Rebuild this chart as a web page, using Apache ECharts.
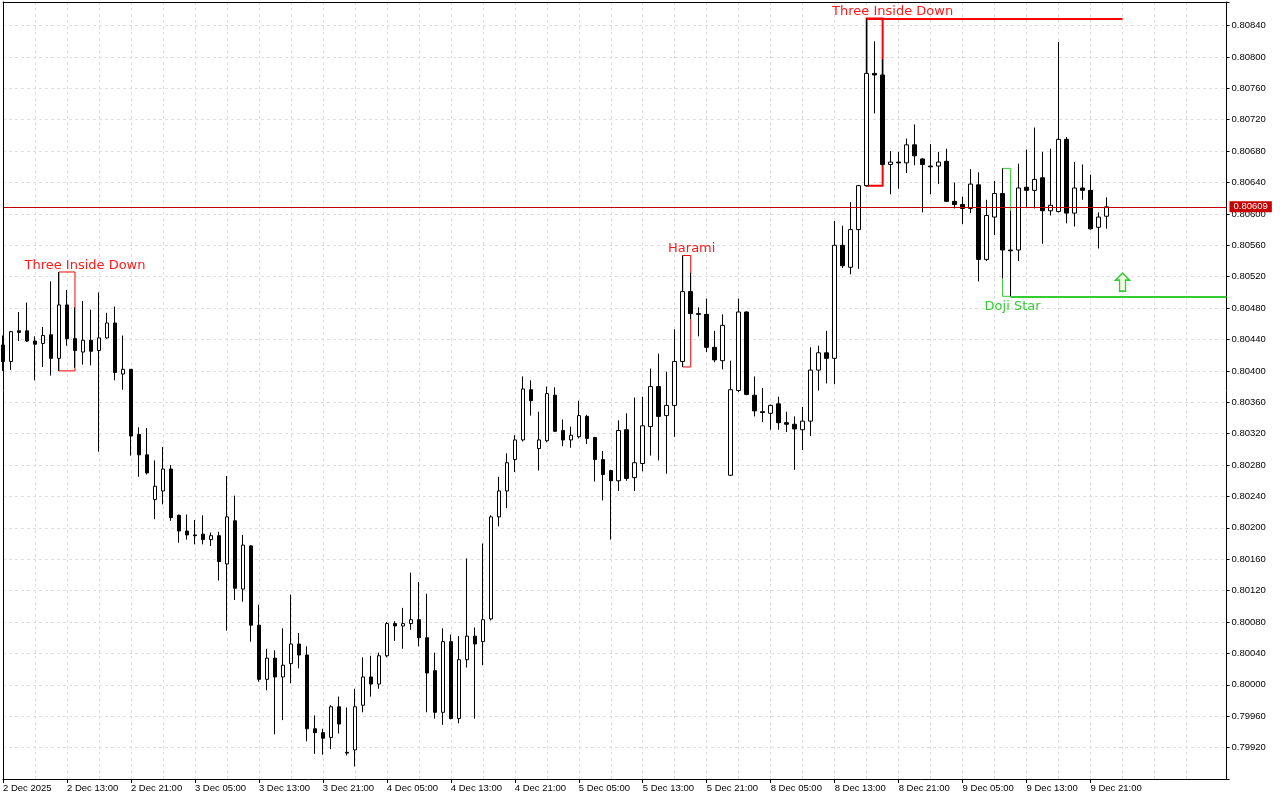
<!DOCTYPE html>
<html><head><meta charset="utf-8">
<script src="https://cdn.jsdelivr.net/npm/echarts@6/dist/echarts.min.js"></script>
<style>html,body{margin:0;padding:0;background:#fff}#c{width:1280px;height:800px}</style>
</head><body><div id="c"></div>
<script>
// ---- hourly sessions shown (weekend skipped) ----
const sessionDays = [['2 Dec',5,23],['3 Dec',0,23],['4 Dec',0,23],['5 Dec',0,23],['8 Dec',0,23],['9 Dec',0,23],['10 Dec',0,14]];
const firstLabel = '2 Dec 2025';

const openP = [0.80433,0.80412,0.80451,0.80451,0.80438,0.80435,0.80446,0.80416,0.80484,0.80441,
0.80424,0.80439,0.80426,0.80442,0.80461,0.80396,0.80402,0.80319,0.80293,0.80236,
0.80247,0.80275,0.80216,0.80196,0.80191,0.80192,0.80185,0.80190,0.80154,0.80209,
0.80122,0.80177,0.80076,0.80007,0.80034,0.80010,0.80027,0.80052,0.80038,0.79944,
0.79939,0.79933,0.79972,0.79914,0.79917,0.79974,0.80010,0.80001,0.80037,0.80078,
0.80075,0.80078,0.80083,0.80060,0.80018,0.79965,0.80055,0.79957,0.80032,0.80062,
0.80055,0.80084,0.80214,0.80247,0.80287,0.80312,0.80376,0.80301,0.80311,0.80369,
0.80324,0.80312,0.80316,0.80342,0.80315,0.80287,0.80273,0.80260,0.80325,0.80264,
0.80282,0.80329,0.80380,0.80343,0.80356,0.80412,0.80501,0.80473,0.80472,0.80430,
0.80413,0.80267,0.80375,0.80475,0.80369,0.80348,0.80346,0.80358,0.80334,0.80332,
0.80325,0.80336,0.80401,0.80423,0.80416,0.80560,0.80532,0.80580,0.80636,0.80779,
0.80777,0.80663,0.80666,0.80665,0.80688,0.80670,0.80661,0.80661,0.80667,0.80616,
0.80612,0.80607,0.80637,0.80542,0.80596,0.80626,0.80554,0.80554,0.80634,0.80630,
0.80646,0.80604,0.80603,0.80695,0.80601,0.80633,0.80630,0.80583,0.80597];

const closeP = [0.80412,0.80450,0.80449,0.80438,0.80434,0.80445,0.80416,0.80484,0.80441,0.80426,
0.80439,0.80425,0.80442,0.80461,0.80398,0.80402,0.80317,0.80293,0.80270,0.80253,
0.80275,0.80213,0.80196,0.80191,0.80190,0.80185,0.80190,0.80157,0.80214,0.80123,
0.80178,0.80076,0.80007,0.80034,0.80010,0.80025,0.80052,0.80038,0.79944,0.79939,
0.79932,0.79972,0.79950,0.79913,0.79972,0.80010,0.80001,0.80037,0.80078,0.80075,
0.80078,0.80083,0.80060,0.80015,0.79965,0.80055,0.79957,0.80032,0.80062,0.80052,
0.80083,0.80214,0.80247,0.80283,0.80312,0.80377,0.80362,0.80312,0.80371,0.80323,
0.80312,0.80318,0.80343,0.80314,0.80287,0.80268,0.80260,0.80324,0.80263,0.80283,
0.80330,0.80380,0.80342,0.80356,0.80412,0.80501,0.80473,0.80472,0.80430,0.80414,
0.80458,0.80376,0.80475,0.80370,0.80349,0.80347,0.80356,0.80334,0.80332,0.80326,
0.80336,0.80401,0.80423,0.80416,0.80560,0.80534,0.80580,0.80636,0.80779,0.80777,
0.80663,0.80666,0.80665,0.80688,0.80674,0.80663,0.80660,0.80666,0.80616,0.80612,
0.80607,0.80638,0.80542,0.80598,0.80626,0.80554,0.80553,0.80633,0.80630,0.80644,
0.80604,0.80611,0.80695,0.80601,0.80633,0.80630,0.80581,0.80596,0.80609];

const highP = [0.80445,0.80451,0.80475,0.80487,0.80444,0.80456,0.80514,0.80526,0.80503,0.80481,
0.80489,0.80478,0.80500,0.80474,0.80482,0.80445,0.80402,0.80328,0.80327,0.80286,
0.80303,0.80280,0.80217,0.80217,0.80210,0.80216,0.80194,0.80195,0.80266,0.80241,
0.80191,0.80178,0.80102,0.80046,0.80044,0.80072,0.80115,0.80066,0.80049,0.79961,
0.79944,0.79974,0.79985,0.79971,0.79995,0.80035,0.80037,0.80041,0.80080,0.80081,
0.80098,0.80143,0.80131,0.80116,0.80041,0.80072,0.80064,0.80062,0.80161,0.80073,
0.80180,0.80216,0.80265,0.80295,0.80318,0.80393,0.80388,0.80348,0.80380,0.80379,
0.80338,0.80329,0.80362,0.80344,0.80316,0.80298,0.80274,0.80337,0.80346,0.80366,
0.80367,0.80403,0.80422,0.80399,0.80453,0.80547,0.80525,0.80481,0.80492,0.80451,
0.80472,0.80413,0.80492,0.80476,0.80393,0.80378,0.80357,0.80367,0.80348,0.80342,
0.80354,0.80430,0.80432,0.80451,0.80591,0.80585,0.80615,0.80637,0.80849,0.80820,
0.80797,0.80680,0.80679,0.80696,0.80714,0.80671,0.80689,0.80679,0.80683,0.80640,
0.80622,0.80657,0.80653,0.80618,0.80642,0.80658,0.80604,0.80664,0.80682,0.80710,
0.80679,0.80683,0.80819,0.80698,0.80666,0.80663,0.80650,0.80602,0.80621];

const lowP = [0.80400,0.80401,0.80438,0.80437,0.80388,0.80405,0.80394,0.80400,0.80432,0.80404,
0.80408,0.80407,0.80297,0.80441,0.80388,0.80376,0.80292,0.80265,0.80268,0.80211,
0.80230,0.80209,0.80181,0.80185,0.80179,0.80179,0.80177,0.80133,0.80069,0.80108,
0.80106,0.80055,0.80004,0.79993,0.79937,0.79955,0.80002,0.80021,0.79928,0.79912,
0.79911,0.79918,0.79938,0.79910,0.79896,0.79965,0.79985,0.79995,0.80035,0.80056,
0.80046,0.80070,0.80049,0.79965,0.79957,0.79949,0.79956,0.79951,0.80022,0.79957,
0.80025,0.80082,0.80202,0.80225,0.80271,0.80310,0.80343,0.80273,0.80309,0.80322,
0.80304,0.80302,0.80314,0.80307,0.80259,0.80235,0.80185,0.80247,0.80260,0.80247,
0.80272,0.80292,0.80286,0.80269,0.80316,0.80405,0.80466,0.80444,0.80424,0.80411,
0.80402,0.80266,0.80373,0.80369,0.80342,0.80335,0.80325,0.80325,0.80322,0.80274,
0.80299,0.80317,0.80375,0.80384,0.80383,0.80531,0.80523,0.80530,0.80635,0.80728,
0.80662,0.80625,0.80632,0.80652,0.80662,0.80602,0.80625,0.80638,0.80615,0.80607,
0.80587,0.80601,0.80514,0.80540,0.80573,0.80518,0.80495,0.80540,0.80609,0.80607,
0.80562,0.80598,0.80602,0.80588,0.80584,0.80618,0.80580,0.80556,0.80581];

// pattern annotations: [label, firstBar, lastBar, top, bottom]
const patternRed = [['Three Inside Down',7,9,0.80526,0.80400],['Harami',85,86,0.80547,0.80405],['Three Inside Down',108,110,0.80849,0.80636]];
const patternGreen = [['Doji Star',125,126,0.80658,0.80495]];
const resistLevel = [108,140,0.80849];
const supportLevel = [126,153,0.80495];
const arrowPoint = [140,0.80513];
const yTickMin = 0.7992, yTickMax = 0.8084;

// build categories
const categories = [];
sessionDays.forEach(([d,a,b]) => { for (let h=a; h<=b; h++) categories.push(d + ' ' + String(h).padStart(2,'0') + ':00'); });
const nBars = openP.length;
const lastIdx = categories.length - 1;
const candleData = openP.map((o,i) => [o, closeP[i], lowP[i], highP[i]]);
const lastClose = closeP[nBars-1];
const showTick = (idx) => idx % 8 === 0 && idx < nBars;

const axisFont = {fontFamily:'Liberation Sans', fontSize:9.5, color:'#000'};
const annFont = {fontFamily:'DejaVu Sans', fontSize:13};

const markAreas = [];
patternRed.forEach(p => markAreas.push([{coord:[p[1],p[3]], itemStyle:{color:'rgba(0,0,0,0)',borderColor:'#ff0000',borderWidth:p[1]>100?2:1}},{coord:[p[2],p[4]]}]));
patternGreen.forEach(p => markAreas.push([{coord:[p[1],p[3]], itemStyle:{color:'rgba(0,0,0,0)',borderColor:'#33cc33',borderWidth:1}},{coord:[p[2],p[4]]}]));

const labelPts = [
  {coord:[patternRed[0][2], patternRed[0][3]], text:patternRed[0][0], color:'#ff1a1a', offset:[10,-6]},
  {coord:[patternRed[1][2], patternRed[1][3]], text:patternRed[1][0], color:'#ff1a1a', offset:[1,-7]},
  {coord:[patternRed[2][2], patternRed[2][3]], text:patternRed[2][0], color:'#ff1a1a', offset:[10,-7]},
  {coord:[patternGreen[0][2], patternGreen[0][4]], text:patternGreen[0][0], color:'#33cc33', offset:[2,10]}
];

const frameAxis = {show:true, z:5, axisLine:{show:true, onZero:false, lineStyle:{color:'#000', width:1}}, axisTick:{show:false}, axisLabel:{show:false}, splitLine:{show:false}};

const chart = echarts.init(document.getElementById('c'), null, {renderer:'canvas'});
chart.setOption({
  animation:false,
  backgroundColor:'#ffffff',
  grid:{left:2.5, right:53.5, top:2, bottom:21, show:false},
  xAxis:[{
    type:'category', data:categories, boundaryGap:false, position:'bottom',
    axisLine:{show:true, onZero:false, lineStyle:{color:'#000', width:1}},
    axisTick:{show:true, interval:(idx) => showTick(idx), length:4, lineStyle:{color:'#000'}},
    axisLabel:Object.assign({interval:(idx) => showTick(idx), align:'left', margin:4,
      formatter:(v,idx) => idx===0 ? firstLabel : (idx < nBars ? v : '')}, axisFont),
    splitLine:{show:true, interval:3, showMinLine:false, showMaxLine:false, lineStyle:{color:'#e0e0e0', type:[3,3], width:1}}
  }, Object.assign({type:'category', data:categories, boundaryGap:false, position:'top'}, frameAxis)],
  yAxis:[{
    type:'value', position:'right', min:0.7988, max:0.8087, interval:0.0004, scale:true,
    axisLine:{show:true, onZero:false, lineStyle:{color:'#000'}},
    axisTick:{show:true, length:3, lineStyle:{color:'#000'}},
    axisLabel:Object.assign({margin:5, formatter:v => (v < yTickMin-1e-7 || v > yTickMax+1e-7) ? '' : v.toFixed(5)}, axisFont),
    splitLine:{show:true, showMinLine:false, showMaxLine:false, lineStyle:{color:'#e0e0e0', type:[3,3], width:1}}
  }, Object.assign({type:'value', position:'left', min:0.7988, max:0.8087, scale:true}, frameAxis)],
  series:[{
    type:'candlestick', data:candleData, barWidth:4, clip:true, xAxisIndex:0, yAxisIndex:0,
    itemStyle:{color:'#ffffff', color0:'#000000', borderColor:'#000000', borderColor0:'#000000', borderWidth:1},
    markArea:{silent:true, animation:false, label:{show:false}, data:markAreas},
    markLine:{silent:true, animation:false, symbol:['none','none'], data:[
      [{coord:[0,lastClose], lineStyle:{color:'#c00000', width:1, type:'solid'},
        label:{show:true, position:'end', distance:3, formatter:lastClose.toFixed(5), backgroundColor:'#c80000', color:'#ffffff', padding:[1,4,0,4], fontFamily:'Liberation Sans', fontSize:9.5}},
       {coord:[lastIdx,lastClose]}],
      [{coord:[resistLevel[0],resistLevel[2]], lineStyle:{color:'#ff0000', width:2, type:'solid'}, label:{show:false}},{coord:[resistLevel[1],resistLevel[2]]}],
      [{coord:[supportLevel[0],supportLevel[2]], lineStyle:{color:'#33cc33', width:2, type:'solid'}, label:{show:false}},{coord:[supportLevel[1],supportLevel[2]]}]
    ]},
    markPoint:{silent:true, animation:false, data:[
      ...labelPts.map(p => ({coord:p.coord, symbol:'circle', symbolSize:0,
        label:Object.assign({show:true, position:'inside', formatter:p.text, color:p.color, offset:p.offset}, annFont)})),
      {coord:arrowPoint, symbol:'path://M7,0 L14,7 L10,7 L10,18 L4,18 L4,7 L0,7 Z', symbolSize:[14,18],
        itemStyle:{color:'#f2ffe6', borderColor:'#33cc33', borderWidth:1.5}, label:{show:false}}
    ]}
  }]
});
</script>
</body></html>
